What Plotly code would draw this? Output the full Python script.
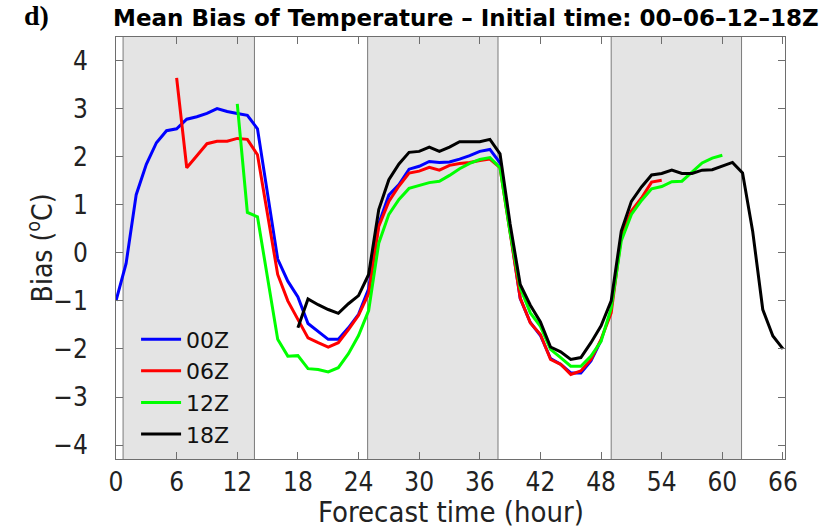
import plotly.graph_objects as go

# Forecast lead time (hours) for each initialisation
hours_00z = list(range(0, 49))
hours_06z = list(range(6, 55))
hours_12z = list(range(12, 61))
hours_18z = list(range(18, 67))

# Mean temperature bias (degC)
bias_00z = [-1.0, -0.22, 1.21, 1.84, 2.29, 2.54, 2.58, 2.78, 2.83, 2.9, 3.0, 2.94, 2.9, 2.86,
            2.58, 1.25, -0.13, -0.59, -0.92, -1.47, -1.63, -1.8, -1.8, -1.56, -1.28, -0.75,
            0.6, 1.2, 1.42, 1.74, 1.8, 1.9, 1.88, 1.89, 1.95, 2.02, 2.11, 2.15, 1.87, 0.45,
            -0.95, -1.45, -1.72, -2.2, -2.32, -2.5, -2.5, -2.25, -1.82]
bias_06z = [3.64, 1.77, 2.02, 2.27, 2.32, 2.32, 2.38, 2.36, 2.04, 0.82, -0.45, -1.0, -1.39,
            -1.77, -1.87, -1.96, -1.87, -1.6, -1.3, -0.85, 0.55, 1.07, 1.39, 1.66, 1.7, 1.78,
            1.72, 1.82, 1.86, 1.88, 1.92, 1.95, 1.77, 0.38, -0.94, -1.46, -1.7, -2.22, -2.32,
            -2.53, -2.46, -2.22, -1.8, -1.25, 0.35, 0.87, 1.14, 1.47, 1.51]
bias_12z = [3.1, 0.84, 0.75, -0.53, -1.8, -2.15, -2.14, -2.41, -2.43, -2.48, -2.39, -2.1,
            -1.72, -1.2, 0.2, 0.8, 1.11, 1.34, 1.4, 1.46, 1.49, 1.61, 1.75, 1.86, 1.94, 1.98,
            1.77, 0.42, -0.73, -1.25, -1.53, -2.01, -2.18, -2.36, -2.36, -2.15, -1.84, -1.15,
            0.25, 0.8, 1.09, 1.33, 1.38, 1.48, 1.49, 1.68, 1.87, 1.97, 2.03]
bias_18z = [-1.56, -0.96, -1.08, -1.18, -1.26, -1.06, -0.89, -0.45, 0.9, 1.52, 1.85, 2.09,
            2.11, 2.2, 2.11, 2.2, 2.31, 2.31, 2.31, 2.36, 2.06, 0.6, -0.66, -1.09, -1.44,
            -1.96, -2.06, -2.22, -2.18, -1.87, -1.52, -1.0, 0.45, 1.07, 1.37, 1.62, 1.65,
            1.72, 1.65, 1.65, 1.72, 1.73, 1.81, 1.88, 1.66, 0.45, -1.18, -1.73, -2.0]

series_names = ["00Z", "06Z", "12Z", "18Z"]
series_colors = ["#0000ff", "#ff0000", "#00ff00", "#000000"]

# Night-time periods (shaded)
night_starts = [0.7, 24.9, 49.0]
night_ends = [13.7, 37.8, 61.9]

x_ticks = list(range(0, 67, 6))
y_ticks = [-4, -3, -2, -1, 0, 1, 2, 3, 4]

narrow_font = "DejaVu Sans Condensed, Liberation Sans Narrow, DejaVu Sans"
text_color = "#222222"

fig = go.Figure()
for xs, ys, name, color in zip([hours_00z, hours_06z, hours_12z, hours_18z],
                               [bias_00z, bias_06z, bias_12z, bias_18z],
                               series_names, series_colors):
    fig.add_trace(go.Scatter(x=xs, y=ys, mode="lines", name=name,
                             line=dict(color=color, width=3)))

shapes = []
for s, e in zip(night_starts, night_ends):
    shapes.append(dict(type="rect", xref="x", yref="paper", x0=s, x1=e, y0=0, y1=1,
                       fillcolor="#e4e4e4", line=dict(width=0), layer="below"))
    for xv in (s, e):
        shapes.append(dict(type="line", xref="x", yref="paper", x0=xv, x1=xv, y0=0, y1=1,
                           line=dict(color="#7a7a7a", width=1), layer="below"))

axis_common = dict(showline=True, mirror="ticks", linecolor="#6e6e6e", linewidth=1,
                   ticks="inside", ticklen=7, tickcolor="#6e6e6e", showgrid=False,
                   zeroline=False, automargin=False)

fig.update_layout(
    width=830, height=529,
    margin=dict(l=116, r=45, t=37, b=70),
    paper_bgcolor="white", plot_bgcolor="white",
    shapes=shapes,
    xaxis=dict(range=[0, 66.2], tickvals=x_ticks, ticklabelstandoff=0,
               tickfont=dict(family=narrow_font, size=26, color=text_color),
               **axis_common),
    yaxis=dict(range=[-4.29, 4.49], tickvals=y_ticks, ticklabelstandoff=22,
               tickfont=dict(family=narrow_font, size=26, color=text_color),
               **axis_common),
    legend=dict(x=0.03, y=0.333, xanchor="left", yanchor="top", bgcolor="rgba(0,0,0,0)",
                font=dict(family="DejaVu Sans", size=22, color="#111111"),
                tracegroupgap=0, itemwidth=40),
    showlegend=True,
    annotations=[
        dict(text="Forecast time (hour)", xref="paper", yref="paper", x=0.5, y=-0.125,
             xanchor="center", yanchor="middle", showarrow=False,
             font=dict(family=narrow_font, size=29, color=text_color)),
        dict(text="Bias (<sup>o</sup>C)", xref="paper", yref="paper", x=-0.113, y=0.5,
             xanchor="center", yanchor="middle", textangle=-90, showarrow=False,
             font=dict(family=narrow_font, size=28, color=text_color)),
        dict(text="<b>Mean Bias of Temperature – Initial time: 00–06–12–18Z</b>",
             xref="paper", yref="paper", x=0.523, y=1.0, yshift=4, xanchor="center",
             yanchor="bottom", showarrow=False,
             font=dict(family="DejaVu Sans", size=23, color="#000000")),
        dict(text="<b>d)</b>", xref="paper", yref="paper", x=-0.14, y=1.0, yshift=4,
             xanchor="left", yanchor="bottom", showarrow=False,
             font=dict(family="Liberation Serif, DejaVu Serif", size=28, color="#000000")),
    ],
)

fig.write_html("out.html")
